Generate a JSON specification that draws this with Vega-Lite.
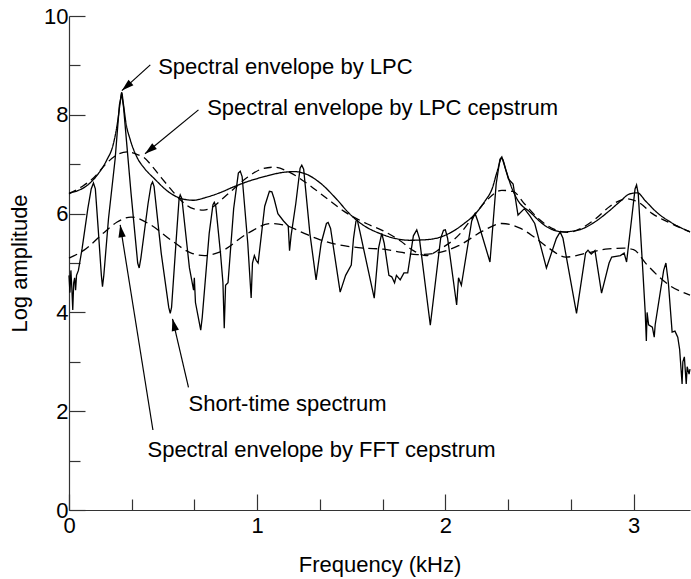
{
  "$schema": "https://vega.github.io/schema/vega-lite/v6.json",
  "width": 621,
  "height": 494,
  "autosize": {"type": "none"},
  "padding": {"left": 69, "top": 16, "right": 1, "bottom": 69},
  "background": "white",
  "config": {
    "view": {"stroke": null},
    "font": "Liberation Sans",
    "axis": {
      "labelFontSize": 22,
      "titleFontSize": 22,
      "titleFontWeight": "normal",
      "labelColor": "black",
      "titleColor": "black",
      "domainColor": "#333333",
      "tickColor": "#333333",
      "domainWidth": 1.2,
      "tickWidth": 1.2,
      "grid": false,
      "labelOverlap": false,
      "labelFlush": false
    }
  },
  "datasets": {
    "spectrum": [
      {"f": 0.0, "amp": 4.75}, {"f": 0.005, "amp": 4.4}, {"f": 0.01, "amp": 4.85}, {"f": 0.015, "amp": 4.5},
      {"f": 0.02, "amp": 4.05}, {"f": 0.025, "amp": 4.6}, {"f": 0.03, "amp": 4.7}, {"f": 0.035, "amp": 4.45},
      {"f": 0.04, "amp": 4.75}, {"f": 0.05, "amp": 4.85}, {"f": 0.07, "amp": 5.3}, {"f": 0.1, "amp": 6.1},
      {"f": 0.118, "amp": 6.5}, {"f": 0.13, "amp": 6.62}, {"f": 0.14, "amp": 6.5}, {"f": 0.155, "amp": 5.7},
      {"f": 0.172, "amp": 4.75}, {"f": 0.178, "amp": 4.52}, {"f": 0.185, "amp": 4.75}, {"f": 0.21, "amp": 5.9},
      {"f": 0.245, "amp": 7.1}, {"f": 0.268, "amp": 8.2}, {"f": 0.28, "amp": 8.43}, {"f": 0.29, "amp": 8.15},
      {"f": 0.33, "amp": 6.4}, {"f": 0.365, "amp": 5.0}, {"f": 0.373, "amp": 4.9}, {"f": 0.382, "amp": 5.1},
      {"f": 0.42, "amp": 6.2}, {"f": 0.436, "amp": 6.58}, {"f": 0.444, "amp": 6.64}, {"f": 0.452, "amp": 6.55},
      {"f": 0.49, "amp": 5.2}, {"f": 0.53, "amp": 4.1}, {"f": 0.538, "amp": 3.98}, {"f": 0.545, "amp": 4.1},
      {"f": 0.572, "amp": 5.6}, {"f": 0.585, "amp": 6.3}, {"f": 0.591, "amp": 6.38}, {"f": 0.6, "amp": 6.3},
      {"f": 0.64, "amp": 4.9}, {"f": 0.662, "amp": 4.45}, {"f": 0.666, "amp": 4.7}, {"f": 0.672, "amp": 4.2},
      {"f": 0.7, "amp": 3.64}, {"f": 0.708, "amp": 3.9}, {"f": 0.745, "amp": 5.6}, {"f": 0.765, "amp": 6.18},
      {"f": 0.772, "amp": 6.23}, {"f": 0.78, "amp": 6.15}, {"f": 0.805, "amp": 5.2}, {"f": 0.818, "amp": 4.6},
      {"f": 0.825, "amp": 3.68}, {"f": 0.832, "amp": 4.55}, {"f": 0.845, "amp": 4.6}, {"f": 0.875, "amp": 6.1},
      {"f": 0.9, "amp": 6.82}, {"f": 0.91, "amp": 6.86}, {"f": 0.92, "amp": 6.75}, {"f": 0.95, "amp": 5.4},
      {"f": 0.968, "amp": 4.29}, {"f": 0.975, "amp": 5.0}, {"f": 0.985, "amp": 5.15}, {"f": 0.995, "amp": 5.05},
      {"f": 1.005, "amp": 5.0}, {"f": 1.04, "amp": 6.15}, {"f": 1.065, "amp": 6.45}, {"f": 1.078, "amp": 6.44},
      {"f": 1.09, "amp": 6.3}, {"f": 1.11, "amp": 6.0}, {"f": 1.14, "amp": 5.85}, {"f": 1.165, "amp": 5.75},
      {"f": 1.172, "amp": 5.25}, {"f": 1.18, "amp": 5.55}, {"f": 1.205, "amp": 6.2}, {"f": 1.228, "amp": 6.92},
      {"f": 1.237, "amp": 6.98}, {"f": 1.247, "amp": 6.9}, {"f": 1.28, "amp": 5.6}, {"f": 1.313, "amp": 4.66},
      {"f": 1.34, "amp": 5.4}, {"f": 1.368, "amp": 5.8}, {"f": 1.377, "amp": 5.82}, {"f": 1.39, "amp": 5.7},
      {"f": 1.441, "amp": 4.41}, {"f": 1.47, "amp": 4.75}, {"f": 1.5, "amp": 4.96}, {"f": 1.512, "amp": 5.5},
      {"f": 1.525, "amp": 5.85}, {"f": 1.532, "amp": 5.87}, {"f": 1.545, "amp": 5.65}, {"f": 1.622, "amp": 4.29},
      {"f": 1.645, "amp": 5.3}, {"f": 1.662, "amp": 5.6}, {"f": 1.675, "amp": 5.4}, {"f": 1.7, "amp": 4.75},
      {"f": 1.715, "amp": 4.72}, {"f": 1.73, "amp": 4.6}, {"f": 1.74, "amp": 4.75}, {"f": 1.76, "amp": 4.66},
      {"f": 1.78, "amp": 4.8}, {"f": 1.8, "amp": 4.8}, {"f": 1.83, "amp": 5.55}, {"f": 1.848, "amp": 5.67},
      {"f": 1.862, "amp": 5.5}, {"f": 1.92, "amp": 3.74}, {"f": 1.975, "amp": 5.5}, {"f": 1.99, "amp": 5.66},
      {"f": 2.0, "amp": 5.67}, {"f": 2.012, "amp": 5.5}, {"f": 2.06, "amp": 4.15}, {"f": 2.07, "amp": 4.7},
      {"f": 2.085, "amp": 4.55}, {"f": 2.14, "amp": 5.85}, {"f": 2.158, "amp": 6.0}, {"f": 2.172, "amp": 5.85},
      {"f": 2.237, "amp": 5.02}, {"f": 2.27, "amp": 6.6}, {"f": 2.29, "amp": 7.1}, {"f": 2.3, "amp": 7.15},
      {"f": 2.312, "amp": 7.0}, {"f": 2.335, "amp": 6.7}, {"f": 2.36, "amp": 6.6}, {"f": 2.386, "amp": 5.97},
      {"f": 2.42, "amp": 6.1}, {"f": 2.45, "amp": 5.95}, {"f": 2.475, "amp": 5.8}, {"f": 2.537, "amp": 4.9},
      {"f": 2.59, "amp": 5.5}, {"f": 2.61, "amp": 5.63}, {"f": 2.625, "amp": 5.5}, {"f": 2.697, "amp": 3.98},
      {"f": 2.745, "amp": 5.2}, {"f": 2.758, "amp": 5.26}, {"f": 2.775, "amp": 5.18}, {"f": 2.795, "amp": 5.25},
      {"f": 2.83, "amp": 4.39}, {"f": 2.87, "amp": 5.0}, {"f": 2.884, "amp": 5.12}, {"f": 2.93, "amp": 5.15},
      {"f": 2.95, "amp": 5.2}, {"f": 2.963, "amp": 5.02}, {"f": 2.99, "amp": 5.9}, {"f": 3.008, "amp": 6.5},
      {"f": 3.016, "amp": 6.58}, {"f": 3.025, "amp": 6.4}, {"f": 3.05, "amp": 4.8}, {"f": 3.062, "amp": 4.0},
      {"f": 3.068, "amp": 3.42}, {"f": 3.072, "amp": 4.0}, {"f": 3.08, "amp": 3.75}, {"f": 3.1, "amp": 3.7},
      {"f": 3.11, "amp": 3.5}, {"f": 3.115, "amp": 3.75}, {"f": 3.16, "amp": 4.85}, {"f": 3.172, "amp": 5.0},
      {"f": 3.185, "amp": 4.6}, {"f": 3.205, "amp": 3.6}, {"f": 3.22, "amp": 3.62}, {"f": 3.235, "amp": 3.5},
      {"f": 3.245, "amp": 3.25}, {"f": 3.258, "amp": 2.55}, {"f": 3.262, "amp": 3.0}, {"f": 3.27, "amp": 3.1},
      {"f": 3.28, "amp": 2.55}, {"f": 3.285, "amp": 2.9}, {"f": 3.295, "amp": 2.75}, {"f": 3.3, "amp": 2.85}
    ],
    "envelopes": [
      {"series": "LPC", "f": 0, "amp": 6.42}, {"series": "LPC", "f": 0.05, "amp": 6.47}, {"series": "LPC", "f": 0.1, "amp": 6.58},
      {"series": "LPC", "f": 0.15, "amp": 6.78}, {"series": "LPC", "f": 0.2, "amp": 7.08}, {"series": "LPC", "f": 0.235, "amp": 7.4},
      {"series": "LPC", "f": 0.258, "amp": 7.85}, {"series": "LPC", "f": 0.272, "amp": 8.25}, {"series": "LPC", "f": 0.28, "amp": 8.45},
      {"series": "LPC", "f": 0.288, "amp": 8.25}, {"series": "LPC", "f": 0.302, "amp": 7.85}, {"series": "LPC", "f": 0.325, "amp": 7.5},
      {"series": "LPC", "f": 0.36, "amp": 7.15}, {"series": "LPC", "f": 0.4, "amp": 6.92}, {"series": "LPC", "f": 0.45, "amp": 6.72},
      {"series": "LPC", "f": 0.54, "amp": 6.41}, {"series": "LPC", "f": 0.6, "amp": 6.3}, {"series": "LPC", "f": 0.66, "amp": 6.27},
      {"series": "LPC", "f": 0.73, "amp": 6.33}, {"series": "LPC", "f": 0.8, "amp": 6.42}, {"series": "LPC", "f": 0.874, "amp": 6.54},
      {"series": "LPC", "f": 0.95, "amp": 6.65}, {"series": "LPC", "f": 1.05, "amp": 6.76}, {"series": "LPC", "f": 1.13, "amp": 6.83},
      {"series": "LPC", "f": 1.2, "amp": 6.85}, {"series": "LPC", "f": 1.26, "amp": 6.8}, {"series": "LPC", "f": 1.335, "amp": 6.62},
      {"series": "LPC", "f": 1.42, "amp": 6.3}, {"series": "LPC", "f": 1.49, "amp": 6.0}, {"series": "LPC", "f": 1.57, "amp": 5.75},
      {"series": "LPC", "f": 1.65, "amp": 5.6}, {"series": "LPC", "f": 1.73, "amp": 5.5}, {"series": "LPC", "f": 1.81, "amp": 5.46},
      {"series": "LPC", "f": 1.89, "amp": 5.47}, {"series": "LPC", "f": 1.97, "amp": 5.52}, {"series": "LPC", "f": 2.035, "amp": 5.63},
      {"series": "LPC", "f": 2.1, "amp": 5.8}, {"series": "LPC", "f": 2.16, "amp": 6.0}, {"series": "LPC", "f": 2.21, "amp": 6.25},
      {"series": "LPC", "f": 2.25, "amp": 6.52}, {"series": "LPC", "f": 2.275, "amp": 6.85}, {"series": "LPC", "f": 2.3, "amp": 7.12},
      {"series": "LPC", "f": 2.322, "amp": 6.88}, {"series": "LPC", "f": 2.35, "amp": 6.55}, {"series": "LPC", "f": 2.385, "amp": 6.27},
      {"series": "LPC", "f": 2.45, "amp": 6.03}, {"series": "LPC", "f": 2.54, "amp": 5.73}, {"series": "LPC", "f": 2.625, "amp": 5.63},
      {"series": "LPC", "f": 2.71, "amp": 5.67}, {"series": "LPC", "f": 2.79, "amp": 5.82}, {"series": "LPC", "f": 2.86, "amp": 6.02},
      {"series": "LPC", "f": 2.93, "amp": 6.25}, {"series": "LPC", "f": 2.98, "amp": 6.4}, {"series": "LPC", "f": 3.02, "amp": 6.42},
      {"series": "LPC", "f": 3.065, "amp": 6.25}, {"series": "LPC", "f": 3.125, "amp": 6.02}, {"series": "LPC", "f": 3.2, "amp": 5.82},
      {"series": "LPC", "f": 3.3, "amp": 5.63},

      {"series": "LPCcep", "f": 0, "amp": 6.4}, {"series": "LPCcep", "f": 0.07, "amp": 6.55}, {"series": "LPCcep", "f": 0.13, "amp": 6.72},
      {"series": "LPCcep", "f": 0.2, "amp": 7.02}, {"series": "LPCcep", "f": 0.255, "amp": 7.19}, {"series": "LPCcep", "f": 0.31, "amp": 7.25},
      {"series": "LPCcep", "f": 0.36, "amp": 7.2}, {"series": "LPCcep", "f": 0.4, "amp": 7.13}, {"series": "LPCcep", "f": 0.45, "amp": 6.92},
      {"series": "LPCcep", "f": 0.49, "amp": 6.73}, {"series": "LPCcep", "f": 0.54, "amp": 6.5}, {"series": "LPCcep", "f": 0.6, "amp": 6.25},
      {"series": "LPCcep", "f": 0.66, "amp": 6.1}, {"series": "LPCcep", "f": 0.715, "amp": 6.07}, {"series": "LPCcep", "f": 0.77, "amp": 6.15},
      {"series": "LPCcep", "f": 0.81, "amp": 6.28}, {"series": "LPCcep", "f": 0.875, "amp": 6.5}, {"series": "LPCcep", "f": 0.95, "amp": 6.74},
      {"series": "LPCcep", "f": 1.03, "amp": 6.91}, {"series": "LPCcep", "f": 1.09, "amp": 6.94}, {"series": "LPCcep", "f": 1.16, "amp": 6.86},
      {"series": "LPCcep", "f": 1.25, "amp": 6.65}, {"series": "LPCcep", "f": 1.335, "amp": 6.41}, {"series": "LPCcep", "f": 1.4, "amp": 6.22},
      {"series": "LPCcep", "f": 1.46, "amp": 6.05}, {"series": "LPCcep", "f": 1.58, "amp": 5.8}, {"series": "LPCcep", "f": 1.67, "amp": 5.65},
      {"series": "LPCcep", "f": 1.76, "amp": 5.45}, {"series": "LPCcep", "f": 1.83, "amp": 5.25}, {"series": "LPCcep", "f": 1.9, "amp": 5.15},
      {"series": "LPCcep", "f": 1.97, "amp": 5.28}, {"series": "LPCcep", "f": 2.08, "amp": 5.6}, {"series": "LPCcep", "f": 2.15, "amp": 5.95},
      {"series": "LPCcep", "f": 2.22, "amp": 6.27}, {"series": "LPCcep", "f": 2.3, "amp": 6.47}, {"series": "LPCcep", "f": 2.36, "amp": 6.45},
      {"series": "LPCcep", "f": 2.42, "amp": 6.2}, {"series": "LPCcep", "f": 2.5, "amp": 5.88}, {"series": "LPCcep", "f": 2.58, "amp": 5.68},
      {"series": "LPCcep", "f": 2.65, "amp": 5.62}, {"series": "LPCcep", "f": 2.72, "amp": 5.7}, {"series": "LPCcep", "f": 2.8, "amp": 5.9},
      {"series": "LPCcep", "f": 2.875, "amp": 6.15}, {"series": "LPCcep", "f": 2.965, "amp": 6.3}, {"series": "LPCcep", "f": 3.03, "amp": 6.22},
      {"series": "LPCcep", "f": 3.1, "amp": 6.0}, {"series": "LPCcep", "f": 3.2, "amp": 5.8}, {"series": "LPCcep", "f": 3.3, "amp": 5.63},

      {"series": "FFTcep", "f": 0, "amp": 5.1}, {"series": "FFTcep", "f": 0.08, "amp": 5.26}, {"series": "FFTcep", "f": 0.19, "amp": 5.63},
      {"series": "FFTcep", "f": 0.256, "amp": 5.83}, {"series": "FFTcep", "f": 0.33, "amp": 5.93}, {"series": "FFTcep", "f": 0.435, "amp": 5.77},
      {"series": "FFTcep", "f": 0.54, "amp": 5.47}, {"series": "FFTcep", "f": 0.65, "amp": 5.2}, {"series": "FFTcep", "f": 0.72, "amp": 5.15},
      {"series": "FFTcep", "f": 0.8, "amp": 5.22}, {"series": "FFTcep", "f": 0.95, "amp": 5.6}, {"series": "FFTcep", "f": 1.07, "amp": 5.8},
      {"series": "FFTcep", "f": 1.16, "amp": 5.75}, {"series": "FFTcep", "f": 1.25, "amp": 5.6}, {"series": "FFTcep", "f": 1.335, "amp": 5.47},
      {"series": "FFTcep", "f": 1.46, "amp": 5.35}, {"series": "FFTcep", "f": 1.57, "amp": 5.3}, {"series": "FFTcep", "f": 1.67, "amp": 5.28},
      {"series": "FFTcep", "f": 1.76, "amp": 5.22}, {"series": "FFTcep", "f": 1.85, "amp": 5.17}, {"series": "FFTcep", "f": 1.95, "amp": 5.2},
      {"series": "FFTcep", "f": 2.07, "amp": 5.35}, {"series": "FFTcep", "f": 2.2, "amp": 5.65}, {"series": "FFTcep", "f": 2.3, "amp": 5.8},
      {"series": "FFTcep", "f": 2.4, "amp": 5.7}, {"series": "FFTcep", "f": 2.47, "amp": 5.53}, {"series": "FFTcep", "f": 2.55, "amp": 5.3},
      {"series": "FFTcep", "f": 2.64, "amp": 5.12}, {"series": "FFTcep", "f": 2.75, "amp": 5.2}, {"series": "FFTcep", "f": 2.85, "amp": 5.28},
      {"series": "FFTcep", "f": 2.95, "amp": 5.3}, {"series": "FFTcep", "f": 3.0, "amp": 5.27}, {"series": "FFTcep", "f": 3.07, "amp": 4.97},
      {"series": "FFTcep", "f": 3.19, "amp": 4.55}, {"series": "FFTcep", "f": 3.3, "amp": 4.35}
    ],
    "arrows": [
      {"f": 0.432, "amp": 9.01, "f2": 0.281, "amp2": 8.49, "angle": 228},
      {"f": 0.688, "amp": 8.1, "f2": 0.404, "amp2": 7.21, "angle": 231},
      {"f": 0.635, "amp": 2.48, "f2": 0.55, "amp2": 3.87, "angle": 346.5},
      {"f": 0.446, "amp": 1.62, "f2": 0.272, "amp2": 5.77, "angle": 351}
    ],
    "labels": [
      {"f": 0.474, "amp": 8.83, "label": "Spectral envelope by LPC"},
      {"f": 0.734, "amp": 8.0, "label": "Spectral envelope by LPC cepstrum"},
      {"f": 0.635, "amp": 2.01, "label": "Short-time spectrum"},
      {"f": 0.417, "amp": 1.08, "label": "Spectral envelope by FFT cepstrum"}
    ]
  },
  "encoding": {
    "x": {
      "field": "f",
      "type": "quantitative",
      "scale": {"domain": [0, 3.3], "nice": false, "zero": false},
      "axis": {
        "title": "Frequency (kHz)",
        "values": [0, 0.33333, 0.66667, 1, 1.33333, 1.66667, 2, 2.33333, 2.66667, 3],
        "labelExpr": "abs(datum.value - round(datum.value)) < 0.01 ? format(round(datum.value), 'd') : ''",
        "tickSize": {"condition": {"test": "abs(datum.value - round(datum.value)) < 0.01", "value": -16}, "value": -11},
        "labelPadding": 21,
        "titlePadding": 13
      }
    },
    "y": {
      "field": "amp",
      "type": "quantitative",
      "scale": {"domain": [0, 10], "nice": false, "zero": false},
      "axis": {
        "title": "Log amplitude",
        "values": [0, 1, 2, 3, 4, 5, 6, 7, 8, 9, 10],
        "labelExpr": "datum.value % 2 === 0 ? datum.label : ''",
        "tickSize": {"condition": {"test": "datum.value % 2 === 0", "value": -16}, "value": -11},
        "labelPadding": 17,
        "titlePadding": 12
      }
    }
  },
  "layer": [
    {
      "data": {"name": "spectrum"},
      "mark": {"type": "line", "color": "black", "strokeWidth": 1.3, "interpolate": "linear"}
    },
    {
      "data": {"name": "envelopes"},
      "mark": {"type": "line", "color": "black", "strokeWidth": 1.3, "interpolate": "monotone"},
      "encoding": {
        "detail": {"field": "series", "type": "nominal"},
        "strokeDash": {
          "field": "series",
          "type": "nominal",
          "scale": {"domain": ["LPC", "LPCcep", "FFTcep"], "range": [[1, 0], [8, 5], [9, 5]]},
          "legend": null
        }
      }
    },
    {
      "data": {"name": "arrows"},
      "mark": {"type": "rule", "color": "black", "strokeWidth": 1.2},
      "encoding": {
        "x2": {"field": "f2"},
        "y2": {"field": "amp2"}
      }
    },
    {
      "data": {"name": "arrows"},
      "mark": {"type": "point", "shape": "M0,0 L0.3,1 L-0.3,1 Z", "filled": true, "color": "black", "opacity": 1, "size": 600, "strokeWidth": 0},
      "encoding": {
        "x": {"field": "f2", "type": "quantitative"},
        "y": {"field": "amp2", "type": "quantitative"},
        "angle": {"field": "angle", "type": "quantitative", "scale": null}
      }
    },
    {
      "data": {"name": "labels"},
      "mark": {"type": "text", "align": "left", "baseline": "alphabetic", "fontSize": 22, "font": "Liberation Sans", "color": "black"},
      "encoding": {
        "text": {"field": "label", "type": "nominal"}
      }
    }
  ]
}
